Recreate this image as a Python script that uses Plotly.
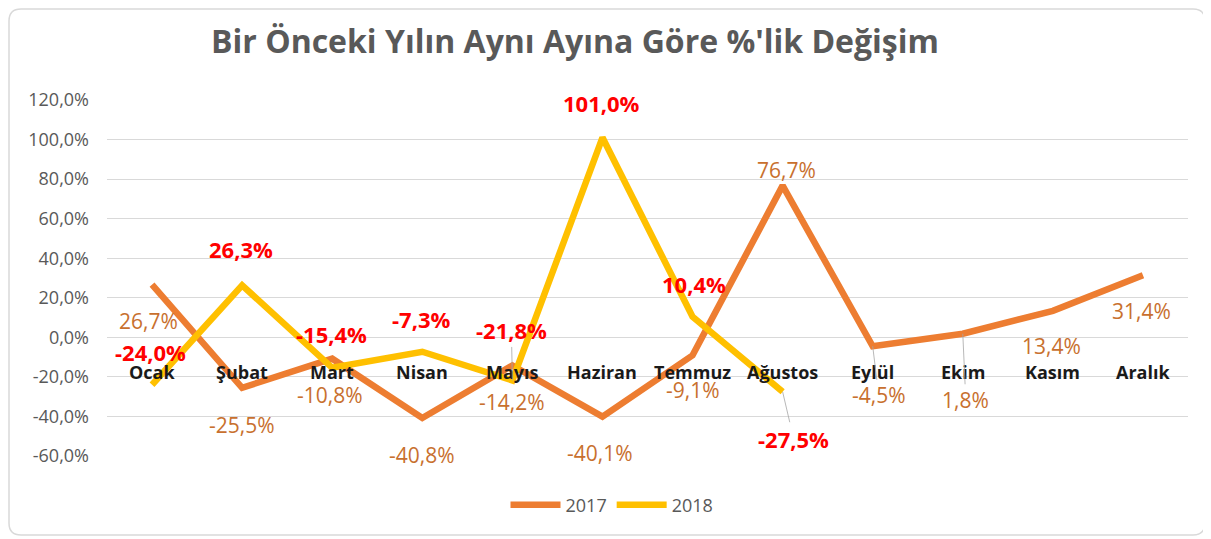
import plotly.graph_objects as go

months = ["Ocak", "Şubat", "Mart", "Nisan", "Mayıs", "Haziran", "Temmuz",
          "Ağustos", "Eylül", "Ekim", "Kasım", "Aralık"]
vals_2017 = [26.7, -25.5, -10.8, -40.8, -14.2, -40.1, -9.1, 76.7, -4.5, 1.8, 13.4, 31.4]
vals_2018 = [-24.0, 26.3, -15.4, -7.3, -21.8, 101.0, 10.4, -27.5]
y_ticks = [-60, -40, -20, 0, 20, 40, 60, 80, 100, 120]
y_tick_text = ["-60,0%", "-40,0%", "-20,0%", "0,0%", "20,0%", "40,0%",
               "60,0%", "80,0%", "100,0%", "120,0%"]

# label placement (pixel offsets: dx, dy; leader line flag)
off_2017 = [(-4, 36, False), (0, 37, False), (-2, 36, False), (0, 37, False),
            (0, 37, False), (-2, 36, False), (0, 35, False), (4, -16, False),
            (6, 49, True), (3, 66, True), (-1, 35, False), (-1, 36, False)]
off_2018 = [(-2, -33, False), (-1, -36, False), (-1, -34, False), (-1, -33, False),
            (-1, -50, True), (-1, -35, False), (1, -33, False), (11, 47, True)]

C17 = "#ED7D31"
C18 = "#FFC000"
FONT = "Open Sans"

def fmt(v):
    return f"{v:.1f}".replace(".", ",") + "%"

fig = go.Figure()
fig.add_trace(go.Scatter(x=months, y=vals_2017, mode="lines", name="2017",
                         line=dict(color=C17, width=6.5)))
fig.add_trace(go.Scatter(x=months[:len(vals_2018)], y=vals_2018, mode="lines", name="2018",
                         line=dict(color=C18, width=6.5)))

ann = []
for m in months:
    ann.append(dict(x=m, y=0, xref="x", yref="y", text=f"<b>{m}</b>", showarrow=False,
                    yshift=-35, font=dict(family=FONT, size=18, color="#1a1a1a")))

def add_labels(vals, offs, color, bold, size):
    for i, v in enumerate(vals):
        dx, dy, lead = offs[i]
        t = fmt(v)
        if bold:
            t = f"<b>{t}</b>"
        f = dict(family=FONT, size=size, color=color)
        if lead:
            ann.append(dict(x=months[i], y=v, xref="x", yref="y", text=t, showarrow=True,
                            ax=dx, ay=dy, arrowhead=0, arrowwidth=0.8, arrowcolor="#a6a6a6",
                            standoff=0, font=f))
        else:
            ann.append(dict(x=months[i], y=v, xref="x", yref="y", text=t, showarrow=False,
                            xshift=dx, yshift=-dy, font=f))

add_labels(vals_2017, off_2017, "#C8702E", False, 21)
add_labels(vals_2018, off_2018, "#FF0000", True, 22)

# page has an 8px body margin; figure placed at (8, 8)
OFF = 8
W, H = 1211 - OFF, 539 - OFF
L, R, T, B = 107 - OFF, 23, 100 - OFF, 83
pw, ph = W - L - R, H - T - B

def px(xp):
    return (xp - OFF - L) / pw

def py(yp):
    return (H - B - (yp - OFF)) / ph

# rounded outer border
x0, x1, y0, y1 = px(9), px(1205), py(535), py(9)
rx, ry = 12 / pw, 12 / ph
path = (f"M {x0+rx},{y1} L {x1-rx},{y1} Q {x1},{y1} {x1},{y1-ry} L {x1},{y0+ry} "
        f"Q {x1},{y0} {x1-rx},{y0} L {x0+rx},{y0} Q {x0},{y0} {x0},{y0+ry} "
        f"L {x0},{y1-ry} Q {x0},{y1} {x0+rx},{y1} Z")

fig.update_layout(
    width=W, height=H,
    margin=dict(l=L, r=R, t=T, b=B),
    paper_bgcolor="white", plot_bgcolor="white",
    title=dict(text="<b>Bir Önceki Yılın Aynı Ayına Göre %'lik Değişim</b>",
               x=px(575), xref="paper", xanchor="center", y=1 - (42 - OFF) / H, yanchor="middle",
               font=dict(family=FONT, size=32, color="#595959")),
    xaxis=dict(range=[-0.5, 11.5], showticklabels=False, showgrid=False, zeroline=False,
               showline=False, fixedrange=True),
    yaxis=dict(range=[-60, 120], tickvals=y_ticks, ticktext=y_tick_text,
               showgrid=True, gridcolor="#d9d9d9", gridwidth=1, zeroline=False,
               tickfont=dict(family=FONT, size=18, color="#595959"), ticks="",
               ticklabelstandoff=17),
    legend=dict(orientation="h", x=px(612), xanchor="center", y=py(505), yanchor="middle",
                font=dict(family=FONT, size=18, color="#595959"), itemwidth=50,
                bgcolor="rgba(0,0,0,0)"),
    annotations=ann,
    shapes=[dict(type="path", path=path, xref="paper", yref="paper",
                 line=dict(color="#d9d9d9", width=1.5), layer="below")],
)

fig.write_html("out.html")
